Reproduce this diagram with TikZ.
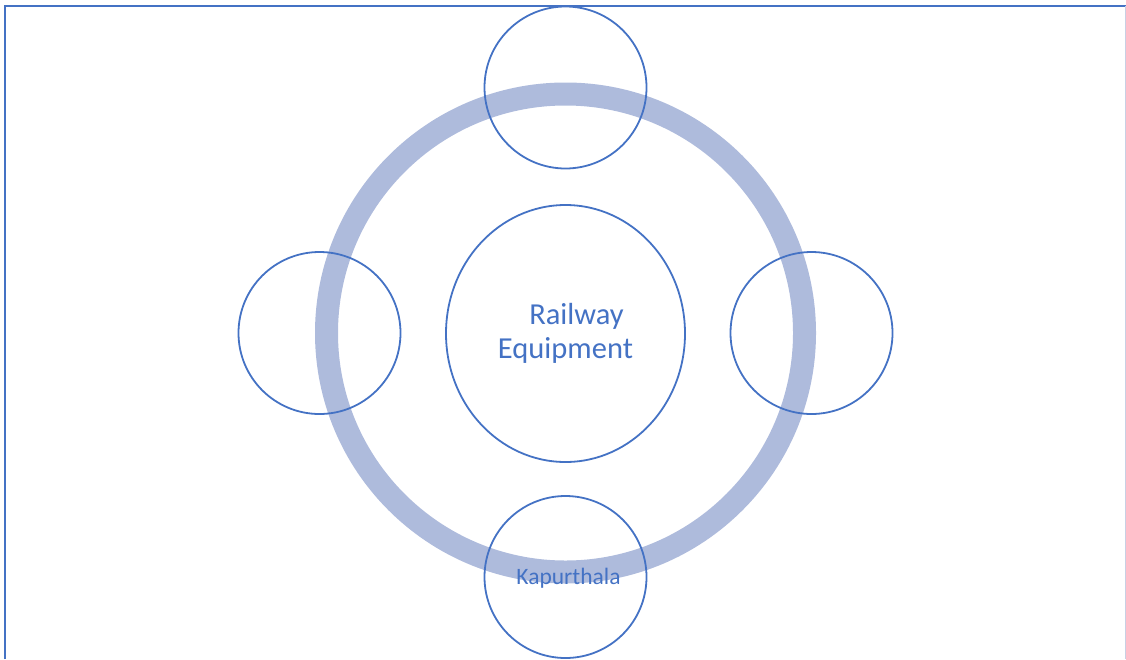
\documentclass[tikz,border=0pt]{standalone}
\usepackage{fontspec}
\setmainfont{Carlito}
\usetikzlibrary{shapes.geometric}
\definecolor{obl}{RGB}{68,114,196}
\definecolor{ringc}{RGB}{174,187,220}
\definecolor{edgec}{RGB}{200,208,228}
\begin{document}
\begin{tikzpicture}[x=1pt,y=-1pt,
  ringstyle/.style={circle,draw=ringc,line width=23pt,minimum size=478pt,inner sep=0pt},
  satcircle/.style={circle,draw=obl,line width=1.8pt,minimum size=162pt,inner sep=0pt},
  hubstyle/.style={ellipse,draw=obl,line width=1.8pt,minimum width=239pt,minimum height=257pt,inner sep=0pt,
     align=center,font=\fontsize{30.5}{34}\selectfont,text=obl}]
\useasboundingbox (0,0) rectangle (1126,659);
% frame
\coordinate (tl) at (5,6);
\coordinate (tr) at (1126,6);
\coordinate (bl) at (5,659);
\coordinate (rt) at (1125,6);
\coordinate (rb) at (1125,659);
\draw[obl,line width=2pt] (bl) -- (tl) -- (tr);
\draw[edgec,line width=1pt] (rt) -- (rb);
% ring
\node[ringstyle] (ring) at (565.5,333) {};
% satellites
\node[satcircle] (top) at (565.5,87.5) {};
\node[satcircle] (left) at (319.5,333) {};
\node[satcircle] (right) at (811.5,333) {};
\node[satcircle] (bottom) at (565.5,577) {};
\node[text=obl,font=\fontsize{23.5}{28}\selectfont,inner sep=0pt] (kap) at (568.5,578) {Kapurthala};
% hub
\node[hubstyle] (hub) at (565.5,333.5) {\hspace*{22pt}Railway\\Equipment};
\end{tikzpicture}
\end{document}
